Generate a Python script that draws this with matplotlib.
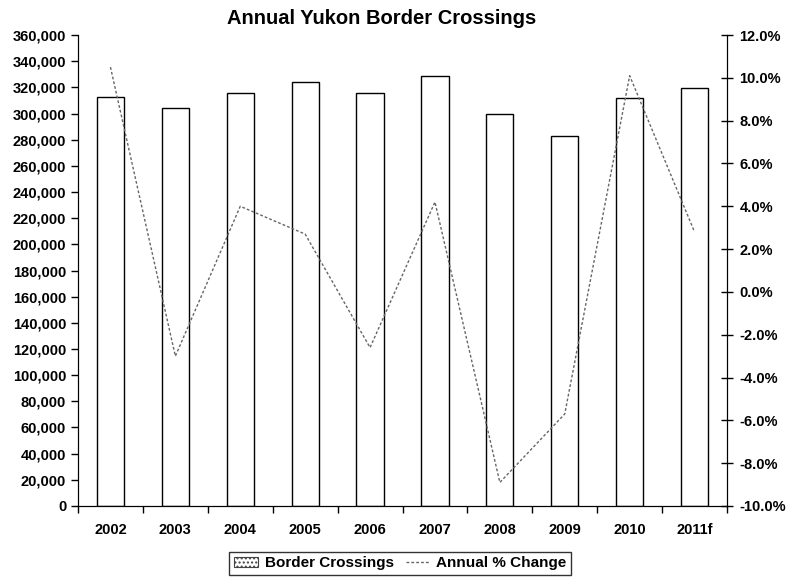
import numpy as np
import matplotlib.pyplot as plt
from matplotlib.ticker import FuncFormatter, FixedLocator
from matplotlib.patches import Patch
from matplotlib.lines import Line2D

# ------------------------------------------------------------
# Data
# ------------------------------------------------------------
years = ["2002", "2003", "2004", "2005", "2006", "2007", "2008", "2009", "2010", "2011f"]
crossings = [313000, 304000, 316000, 324000, 315500, 329000, 299500, 282500, 311800, 319800]
pct_change = [10.5, -3.0, 4.0, 2.7, -2.6, 4.2, -8.9, -5.7, 10.1, 2.8]

plt.rcParams['font.family'] = ['Liberation Sans', 'DejaVu Sans']

fig = plt.figure(figsize=(7.88, 5.78), dpi=100)
ax = fig.add_axes([0.099, 0.1246, 0.8236, 0.8148])

x = np.arange(len(years))
ax.bar(x, crossings, width=0.42, facecolor="white", edgecolor="black", linewidth=1.0, zorder=2)

ax.set_xlim(-0.5, len(years) - 0.5)
ax.set_ylim(0, 360000)
ax.set_yticks(np.arange(0, 360001, 20000))
ax.yaxis.set_major_formatter(FuncFormatter(lambda v, p: f"{int(v):,}"))
ax.set_xticks(x)
ax.set_xticklabels(years)
ax.xaxis.set_minor_locator(FixedLocator(np.arange(-0.5, len(years), 1.0)))
ax.tick_params(axis="x", which="major", length=0, pad=12)
ax.tick_params(axis="x", which="minor", length=5, width=1.0, direction="out")
ax.tick_params(axis="y", length=5, width=1.0, direction="out")
for lab in ax.get_xticklabels() + ax.get_yticklabels():
    lab.set_fontweight("bold")
    lab.set_fontsize(10.5)
ax.spines["top"].set_visible(False)

# percent change on the secondary axis
ax2 = ax.twinx()
ax2.plot(x, pct_change, color="#666666", linestyle=(0, (2, 1.5)), linewidth=1.0, zorder=3)
ax2.set_ylim(-10, 12)
ax2.set_yticks(np.arange(-10, 12.1, 2))
ax2.yaxis.set_major_formatter(FuncFormatter(lambda v, p: f"{v:.1f}%"))
ax2.tick_params(axis="y", length=8, width=1.0, direction="inout", pad=5)
for lab in ax2.get_yticklabels():
    lab.set_fontweight("bold")
    lab.set_fontsize(10.5)
ax2.spines["top"].set_visible(False)

fig.suptitle("Annual Yukon Border Crossings", fontsize=14.5, fontweight="bold",
             x=0.484, y=0.985)

handles = [
    Patch(facecolor="white", edgecolor="#444444", hatch="....", linewidth=0.8),
    Line2D([0], [0], color="#666666", linestyle=(0, (2, 1.5)), linewidth=1.0),
]
fig.legend(handles, ["Border Crossings", "Annual % Change"], loc="lower center",
           bbox_to_anchor=(0.508, -0.008), ncol=2, frameon=True, fancybox=False,
           edgecolor="black", prop={"weight": "bold", "size": 11},
           handlelength=1.6, columnspacing=0.8, handletextpad=0.4,
           borderpad=0.3)

fig.savefig("out.png", dpi=100)
